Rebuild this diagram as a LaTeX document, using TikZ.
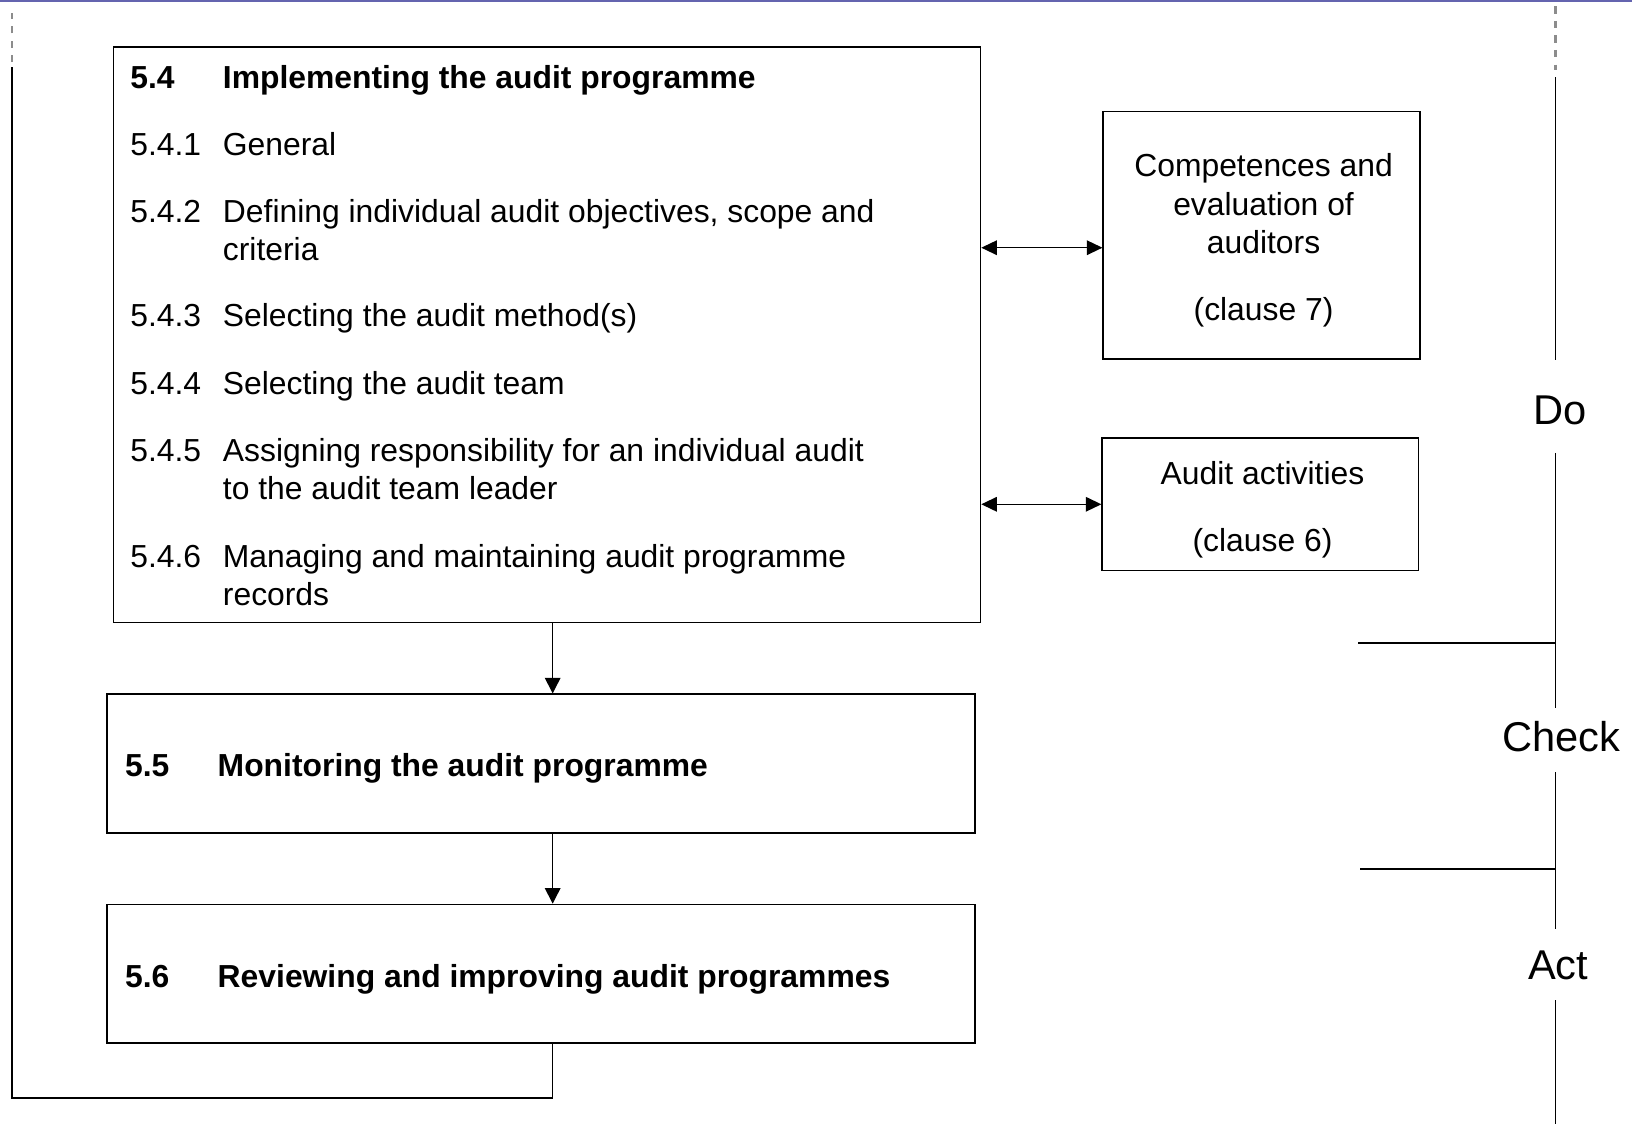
\documentclass[tikz,border=0pt]{standalone}
\usepackage{fontspec}
\setmainfont{Liberation Sans}
\usetikzlibrary{arrows.meta}
\definecolor{rulerblue}{RGB}{100,100,175}
\definecolor{dashgray}{RGB}{140,140,140}

\begin{document}
\begin{tikzpicture}[x=1pt,y=1pt]
\tikzstyle{every node}+=[inner sep=0pt, font=\fontsize{30.6}{36.7}\selectfont]
\tikzstyle{box}=[draw, line width=1.6pt]
\tikzstyle{txt}=[anchor=base west]
\tikzstyle{arr}=[line width=1.4pt, -{Triangle[length=15pt,width=15pt]}]
\tikzstyle{darr}=[line width=1.4pt, {Triangle[length=15pt,width=14pt]}-{Triangle[length=15pt,width=14pt]}]
\tikzstyle{phase}=[font=\fontsize{40}{48}\selectfont, anchor=base]
\tikzstyle{rule}=[line width=1.5pt]
\tikzstyle{dashrule}=[dashgray, line width=2pt, dash pattern=on 7pt off 7pt]
\useasboundingbox (0,0) rectangle (1568,-1080);
\draw [rulerblue, line width=2.5pt] (0,-1) -- (1568,-1);
\draw (525.5,-321.5) node [box, minimum width=833pt, minimum height=553pt] (b54) {};
\draw (520,-733.5) node [box, minimum width=834pt, minimum height=133pt] (b55) {};
\draw (520,-935.5) node [box, minimum width=834pt, minimum height=133pt] (b56) {};
\draw (1212,-226) node [box, minimum width=304pt, minimum height=238pt] (b7) {};
\draw (1211,-484.5) node [box, minimum width=304pt, minimum height=127pt] (b6) {};
\draw (1214,-231) node [align=center] (t7) {Competences and\\evaluation of\\auditors\\[28pt](clause 7)};
\draw (1213,-489.5) node [align=center] (t6) {Audit activities\\[28pt](clause 6)};
\draw (125,-85) node [txt] (n54) {\bfseries 5.4};
\draw (214,-85) node [txt] (t54) {\bfseries Implementing the audit programme};
\draw (125,-149) node [txt] (n541) {5.4.1};
\draw (214,-149) node [txt] (t541) {General};
\draw (125,-214) node [txt] (n542) {5.4.2};
\draw (214,-214) node [txt] (t542) {Defining individual audit objectives, scope and};
\draw (214,-250) node [txt] (t542b) {criteria};
\draw (125,-314) node [txt] (n543) {5.4.3};
\draw (214,-314) node [txt] (t543) {Selecting the audit method(s)};
\draw (125,-379) node [txt] (n544) {5.4.4};
\draw (214,-379) node [txt] (t544) {Selecting the audit team};
\draw (125,-443) node [txt] (n545) {5.4.5};
\draw (214,-443) node [txt] (t545) {Assigning responsibility for an individual audit};
\draw (214,-480) node [txt] (t545b) {to the audit team leader};
\draw (125,-545) node [txt] (n546) {5.4.6};
\draw (214,-545) node [txt] (t546) {Managing and maintaining audit programme};
\draw (214,-582) node [txt] (t546b) {records};
\draw (120,-746) node [txt] (n55) {\bfseries 5.5};
\draw (209,-746) node [txt] (t55) {\bfseries Monitoring the audit programme};
\draw (120,-949) node [txt] (n56) {\bfseries 5.6};
\draw (209,-949) node [txt] (t56) {\bfseries Reviewing and improving audit programmes};
\coordinate (mid) at (531,0);
\coordinate (r7) at (0,-238);
\draw [arr] (b54.south -| mid) -- (b55.north -| mid);
\draw [arr] (b55.south -| mid) -- (b56.north -| mid);
\draw [darr] (b54.east |- r7) -- (b7.west |- r7);
\draw [darr] (b54.east |- b6.west) -- (b6.west);
\coordinate (loop) at (11.5,-1055);
\coordinate (looptop) at (11.5,-64);
\coordinate (loopdash) at (11.5,-12.5);
\draw [rule] (b56.south -| mid) |- (loop) -- (looptop);
\draw [dashrule] (looptop) ++(0,4) -- (loopdash);
\draw (1499,-408) node [phase] (do) {Do};
\draw (1500,-722) node [phase] (check) {Check};
\draw (1497,-941) node [phase] (act) {Act};
\coordinate (p0) at (1494.5,-6);
\coordinate (p1) at (1494.5,-67);
\coordinate (p2) at (1494.5,-74);
\coordinate (p3) at (1494.5,-346);
\coordinate (p4) at (1494.5,-435);
\coordinate (p5) at (1494.5,-680);
\coordinate (p6) at (1494.5,-742);
\coordinate (p7) at (1494.5,-893);
\coordinate (p8) at (1494.5,-961);
\coordinate (p9) at (1494.5,-1080);
\coordinate (tk1) at (1305,-618);
\coordinate (tk2) at (1307,-835);
\draw [dashrule] (p0) -- (p1);
\draw [rule] (p2) -- (p3);
\draw [rule] (p4) -- (p5);
\draw [rule] (p6) -- (p7);
\draw [rule] (p8) -- (p9);
\draw [rule] (tk1) -- (tk1 -| p0);
\draw [rule] (tk2) -- (tk2 -| p0);
\end{tikzpicture}
\end{document}
